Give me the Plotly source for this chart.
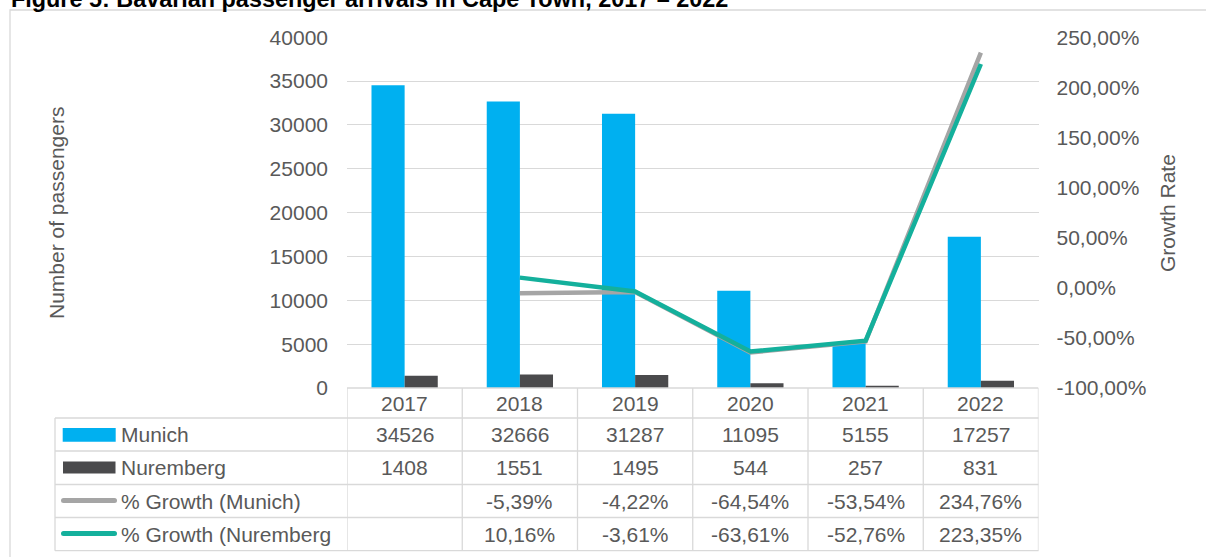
import plotly.graph_objects as go

# Passenger arrivals from Bavarian airports into Cape Town
years = ["2017", "2018", "2019", "2020", "2021", "2022"]
munich = [34526, 32666, 31287, 11095, 5155, 17257]
nuremberg = [1408, 1551, 1495, 544, 257, 831]
growth_munich = [None, -5.39, -4.22, -64.54, -53.54, 234.76]
growth_nuremberg = [None, 10.16, -3.61, -63.61, -52.76, 223.35]

left_ticks = [0, 5000, 10000, 15000, 20000, 25000, 30000, 35000, 40000]
right_ticks = [-100, -50, 0, 50, 100, 150, 200, 250]

title_text = "Figure 5: Bavarian passenger arrivals in Cape Town, 2017 – 2022"
row_names = ["Munich", "Nuremberg", "% Growth (Munich)", "% Growth (Nuremberg"]

BLUE = "#00B0F0"
DARK = "#4A4A4C"
GREY_LINE = "#A5A5A5"
TEAL = "#14B09C"
TEXT = "#595959"
RULE = "#D9D9D9"
FONT = "Liberation Sans, Arial, sans-serif"
FS = 21

W, H = 1206, 557


def px(x):
    return x / W


def py(y):
    return 1 - y / H


def pct(v):
    return "" if v is None else f"{v:.2f}".replace(".", ",") + "%"


PLOT_L, PLOT_R = 347, 1038.5
PLOT_T, PLOT_B = 37.3, 388

fig = go.Figure()

fig.add_trace(go.Bar(x=years, y=munich, name="Munich", marker=dict(color=BLUE, line=dict(width=0))))
fig.add_trace(go.Bar(x=years, y=nuremberg, name="Nuremberg", marker=dict(color=DARK, line=dict(width=0))))
fig.add_trace(go.Scatter(x=years, y=growth_munich, name="% Growth (Munich)", yaxis="y2",
                         mode="lines", line=dict(color=GREY_LINE, width=4.5)))
fig.add_trace(go.Scatter(x=years, y=growth_nuremberg, name="% Growth (Nuremberg", yaxis="y2",
                         mode="lines", line=dict(color=TEAL, width=4.5)))

shapes = []
annotations = []

# outer frame of the chart area
shapes.append(dict(type="rect", xref="paper", yref="paper",
                   x0=px(10), x1=px(1220), y0=py(10), y1=py(575),
                   line=dict(color=RULE, width=1.3), fillcolor="rgba(0,0,0,0)", layer="below"))

# data table grid under the plot (columns follow the category axis)
row_lines = [388, 418, 451, 484.5, 517.5, 550.7]
for i, yl in enumerate(row_lines):
    if i == 0:
        shapes.append(dict(type="line", xref="x", yref="paper", x0=-0.5, x1=len(years) - 0.5,
                           y0=py(yl), y1=py(yl), line=dict(color=RULE, width=1.3)))
    else:
        shapes.append(dict(type="line", xref="paper", yref="paper", x0=px(55), x1=px(PLOT_R),
                           y0=py(yl), y1=py(yl), line=dict(color=RULE, width=1.3)))
for k in range(len(years) + 1):
    shapes.append(dict(type="line", xref="x", yref="paper", x0=k - 0.5, x1=k - 0.5,
                       y0=py(388), y1=py(550.7), line=dict(color=RULE, width=1.3)))
shapes.append(dict(type="line", xref="paper", yref="paper", x0=px(55), x1=px(55),
                   y0=py(418), y1=py(550.7), line=dict(color=RULE, width=1.3)))

# legend keys in the row header cells
shapes.append(dict(type="rect", xref="paper", yref="paper", x0=px(62.7), x1=px(115.7),
                   y0=py(428), y1=py(441.7), line=dict(width=0), fillcolor=BLUE))
shapes.append(dict(type="rect", xref="paper", yref="paper", x0=px(63), x1=px(115.5),
                   y0=py(461.5), y1=py(473.5), line=dict(width=0), fillcolor=DARK))
for yc, col in [(500.5, GREY_LINE), (533.5, TEAL)]:
    shapes.append(dict(type="line", xref="paper", yref="paper", x0=px(63.5), x1=px(114.5),
                       y0=py(yc), y1=py(yc), line=dict(color=col, width=5)))
    for xc in (63.5, 114.5):
        shapes.append(dict(type="circle", xref="paper", yref="paper",
                           x0=px(xc - 2.5), x1=px(xc + 2.5), y0=py(yc - 2.5), y1=py(yc + 2.5),
                           line=dict(width=0), fillcolor=col))

row_centres = [434.5, 467.7, 501, 534.1]
for name, yc in zip(row_names, row_centres):
    annotations.append(dict(text=name, xref="paper", yref="paper", x=px(119), y=py(yc),
                            xanchor="left", yanchor="middle", showarrow=False,
                            font=dict(family=FONT, size=FS, color=TEXT)))

table_rows = [
    [str(v) for v in munich],
    [str(v) for v in nuremberg],
    [pct(v) for v in growth_munich],
    [pct(v) for v in growth_nuremberg],
]
for i, yr in enumerate(years):
    annotations.append(dict(text=yr, xref="x", yref="paper", x=i, y=py(403.2),
                            xanchor="center", yanchor="middle", showarrow=False,
                            font=dict(family=FONT, size=FS, color=TEXT)))
    for cells, yc in zip(table_rows, row_centres):
        if cells[i]:
            annotations.append(dict(text=cells[i], xref="x", yref="paper", x=i, y=py(yc),
                                    xanchor="center", yanchor="middle", showarrow=False,
                                    font=dict(family=FONT, size=FS, color=TEXT)))

# axis titles
annotations.append(dict(text="Number of passengers", xref="paper", yref="paper", x=px(56), y=py(213),
                        textangle=-90, xanchor="center", yanchor="middle", showarrow=False,
                        font=dict(family=FONT, size=FS, color=TEXT)))
annotations.append(dict(text="Growth Rate", xref="paper", yref="paper", x=px(1167), y=py(213),
                        textangle=-90, xanchor="center", yanchor="middle", showarrow=False,
                        font=dict(family=FONT, size=FS, color=TEXT)))

# figure caption
annotations.append(dict(text="<b>" + title_text + "</b>", xref="paper", yref="paper",
                        x=px(9), y=py(-1.3), xanchor="left", yanchor="middle", showarrow=False,
                        font=dict(family=FONT, size=23.4, color="#000000")))

fig.update_layout(
    width=W, height=H, autosize=False,
    margin=dict(l=0, r=0, t=0, b=0, pad=0),
    paper_bgcolor="white", plot_bgcolor="white",
    separators=", ",
    showlegend=False,
    barmode="group", bargap=0.425, bargroupgap=0,
    font=dict(family=FONT, size=FS, color=TEXT),
    xaxis=dict(domain=[px(PLOT_L), px(PLOT_R)], type="category", range=[-0.5, 5.5], automargin=False,
               showticklabels=False, showgrid=False, zeroline=False, showline=False, ticks=""),
    yaxis=dict(domain=[py(PLOT_B), py(PLOT_T)], range=[0, 40000], tickvals=left_ticks, automargin=False,
               ticktext=[str(v) for v in left_ticks], showgrid=True, gridcolor=RULE, gridwidth=1.3,
               zeroline=False, showline=False, ticks="", ticklabelstandoff=18,
               tickfont=dict(family=FONT, size=FS, color=TEXT)),
    yaxis2=dict(domain=[py(PLOT_B), py(PLOT_T)], overlaying="y", side="right", range=[-100, 250],
                tickvals=right_ticks, ticktext=[pct(v) for v in right_ticks], showgrid=False,
                automargin=False, zeroline=False, showline=False, ticks="", ticklabelstandoff=17,
                tickfont=dict(family=FONT, size=FS, color=TEXT)),
    shapes=shapes,
    annotations=annotations,
)

fig.write_html("out.html")
